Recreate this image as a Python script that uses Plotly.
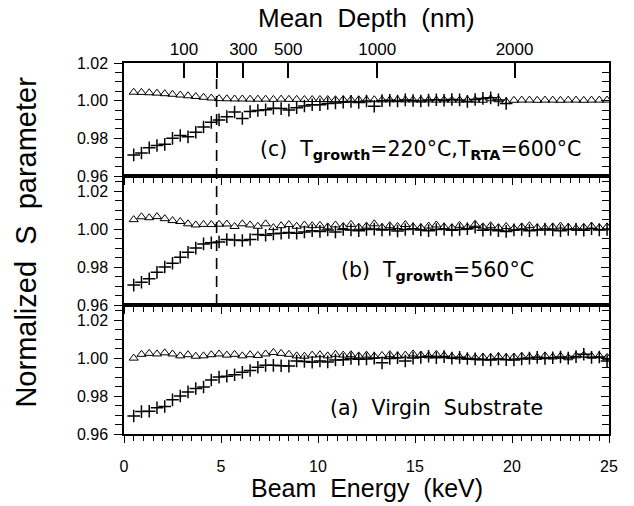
import plotly.graph_objects as go

# ---------------- data ----------------
energy = [0.5, 0.9, 1.3, 1.7, 2.1, 2.5, 2.9, 3.3, 3.7, 4.1, 4.5, 4.9, 5.3, 5.7, 6.1, 6.5,
          6.9, 7.3, 7.7, 8.1, 8.5, 8.9, 9.3, 9.7, 10.1, 10.5, 10.9, 11.3, 11.7, 12.1, 12.5,
          12.9, 13.3, 13.7, 14.1, 14.5, 14.9, 15.3, 15.7, 16.1, 16.5, 16.9, 17.3, 17.7,
          18.1, 18.5, 18.9, 19.3, 19.7, 20.1, 20.5, 20.9, 21.3, 21.7, 22.1, 22.5, 22.9,
          23.3, 23.7, 24.1, 24.5, 24.9]

# (c) T_growth=220C, T_RTA=600C
c_tri = [1.0045, 1.0044, 1.0042, 1.0040, 1.0037, 1.0034, 1.0030, 1.0026, 1.0022, 1.0018,
         1.0014, 1.0011, 1.0010, 1.0009, 1.0009, 1.0008, 1.0008, 1.0008, 1.0007, 1.0008,
         1.0007, 1.0007, 1.0006, 1.0006, 1.0006, 1.0006, 1.0005, 1.0006, 1.0005, 1.0005,
         1.0004, 1.0005, 1.0004, 1.0004, 1.0005, 1.0004, 1.0004, 1.0003, 1.0004, 1.0003,
         1.0004, 1.0003, 1.0003, 1.0004, 1.0003, 1.0002, 1.0010, 1.0005, 0.9995, 1.0002,
         1.0003, 1.0003, 1.0002, 1.0003, 1.0003, 1.0002, 1.0003, 1.0003, 1.0002, 1.0003,
         1.0003, 1.0003]
c_cross = [0.9712, 0.9722, 0.9750, 0.9762, 0.9768, 0.9800, 0.9815, 0.9808, 0.9832, 0.9860,
           0.9885, 0.9898, 0.9915, 0.9940, 0.9905, 0.9942, 0.9948, 0.9952, 0.9960, 0.9958,
           0.9950, 0.9962, 0.9972, 0.9978, 0.9978, 0.9985, 0.9988, 0.9992, 0.9996, 0.9990,
           0.9998, 0.9970, 1.0000, 1.0002, 0.9998, 1.0004, 1.0001, 0.9998, 1.0003, 1.0005,
           1.0002, 1.0006, 1.0004, 0.9996, 1.0006, 1.0012, 1.0015, 1.0004, 0.9985]

# (b) T_growth=560C
b_tri = [1.0050, 1.0065, 1.0060, 1.0066, 1.0055, 1.0045, 1.0040, 1.0028, 1.0022, 1.0025,
         1.0024, 1.0026, 1.0027, 1.0014, 1.0028, 1.0022, 1.0015, 1.0028, 1.0008, 1.0018,
         1.0024, 1.0015, 1.0022, 1.0018, 1.0020, 1.0012, 1.0022, 1.0014, 1.0025, 1.0010,
         1.0016, 1.0028, 1.0010, 1.0018, 1.0014, 1.0024, 1.0012, 1.0008, 1.0016, 1.0022,
         1.0012, 1.0008, 1.0020, 1.0010, 1.0026, 1.0012, 1.0018, 1.0008, 1.0014, 1.0004,
         1.0012, 1.0018, 1.0008, 1.0006, 1.0012, 1.0016, 1.0010, 1.0004, 1.0010, 1.0016,
         1.0008, 1.0012]
b_cross = [0.9705, 0.9720, 0.9738, 0.9772, 0.9800, 0.9820, 0.9852, 0.9878, 0.9900, 0.9922,
           0.9928, 0.9932, 0.9945, 0.9942, 0.9940, 0.9945, 0.9972, 0.9968, 0.9975, 0.9978,
           0.9982, 0.9978, 0.9985, 0.9992, 0.9988, 0.9995, 0.9985, 0.9998, 0.9996, 0.9992,
           0.9998, 1.0000, 0.9995, 0.9998, 0.9990, 0.9998, 1.0002, 0.9996, 0.9992, 0.9998,
           1.0000, 0.9994, 0.9998, 1.0002, 1.0010, 0.9994, 0.9998, 0.9992, 0.9988, 0.9996,
           0.9998, 0.9992, 0.9995, 1.0000, 0.9996, 0.9992, 0.9998, 1.0000, 0.9994, 1.0002,
           0.9996, 0.9998]

# (a) Virgin substrate
a_tri = [1.0000, 1.0020, 1.0025, 1.0022, 1.0028, 1.0022, 1.0012, 1.0018, 1.0010, 1.0012,
         1.0018, 1.0022, 1.0016, 1.0020, 1.0012, 1.0018, 1.0014, 1.0022, 1.0030, 1.0025,
         1.0020, 1.0012, 1.0010, 1.0016, 1.0018, 1.0012, 1.0020, 1.0016, 1.0018, 1.0012,
         1.0016, 1.0010, 1.0014, 1.0018, 1.0012, 1.0016, 1.0022, 1.0016, 1.0012, 1.0020,
         1.0014, 1.0008, 1.0006, 1.0004, 1.0002, 1.0006, 1.0004, 1.0008, 1.0004, 1.0006,
         1.0010, 1.0006, 1.0004, 1.0012, 1.0006, 1.0010, 1.0002, 1.0012, 1.0016, 1.0010,
         1.0012, 1.0004]
a_cross = [0.9695, 0.9718, 0.9720, 0.9738, 0.9745, 0.9780, 0.9800, 0.9822, 0.9840, 0.9848,
           0.9885, 0.9900, 0.9905, 0.9912, 0.9925, 0.9935, 0.9952, 0.9962, 0.9962, 0.9960,
           0.9958, 0.9985, 0.9982, 0.9978, 0.9985, 0.9980, 0.9990, 0.9992, 0.9998, 0.9994,
           0.9996, 1.0000, 0.9975, 0.9998, 1.0002, 0.9985, 1.0000, 1.0004, 1.0010, 1.0002,
           1.0008, 1.0000, 1.0004, 0.9998, 0.9996, 0.9992, 0.9990, 0.9996, 0.9992, 0.9990,
           0.9996, 1.0000, 1.0004, 0.9998, 1.0002, 1.0006, 1.0000, 1.0008, 1.0020, 1.0004,
           1.0006, 0.9985]

depth_ticks = [100, 200, 300, 500, 1000, 2000]
depth_labels = ["100", " ", "300", "500", "1000", "2000"]
dashed_depth = 200

# Makhov mean depth z = A * E^n  (nm, keV)
A_DEP, N_DEP = 16.4, 1.6
def depth_to_energy(z):
    return (z / A_DEP) ** (1.0 / N_DEP)

# ---------------- figure ----------------
FONT = "Liberation Sans, Arial, sans-serif"
FONT2 = "DejaVu Sans, Verdana, sans-serif"
W, H = 634, 506
L, R, T, B = 123.5, 25, 63, 72
ph = H - T - B
d_bot = [0.0, 129 / ph]
d_mid = [129 / ph, 258 / ph]
d_top = [258 / ph, 1.0]

fig = go.Figure()

tri = dict(symbol="triangle-up-open", size=8, color="black", line=dict(width=1, color="black"))
crs = dict(symbol="cross-thin-open", size=9, color="black", line=dict(width=1.5, color="black"))

n_c = len(c_cross)
fig.add_trace(go.Scatter(x=energy, y=c_tri, mode="markers", marker=tri, xaxis="x3", yaxis="y3"))
fig.add_trace(go.Scatter(x=energy[:n_c], y=c_cross, mode="markers", marker=crs, xaxis="x3", yaxis="y3"))
fig.add_trace(go.Scatter(x=energy, y=b_tri, mode="markers", marker=tri, xaxis="x2", yaxis="y2"))
fig.add_trace(go.Scatter(x=energy, y=b_cross, mode="markers", marker=crs, xaxis="x2", yaxis="y2"))
fig.add_trace(go.Scatter(x=energy, y=a_tri, mode="markers", marker=tri, xaxis="x", yaxis="y"))
fig.add_trace(go.Scatter(x=energy, y=a_cross, mode="markers", marker=crs, xaxis="x", yaxis="y"))

# invisible carriers so the overlay (top depth / right tick) axes get drawn
for xa, ya in [("x4", "y3"), ("x", "y4"), ("x2", "y5"), ("x3", "y6")]:
    fig.add_trace(go.Scatter(x=[energy[0]], y=[c_tri[0]], mode="markers",
                             marker=dict(opacity=0), xaxis=xa, yaxis=ya, hoverinfo="skip"))

tickfont = dict(family=FONT, size=16, color="black")

def xax(anchor, labels):
    return dict(range=[0, 25], anchor=anchor, showline=True, linecolor="black", linewidth=1.5,
                mirror=True, ticks="outside", ticklen=7, tickwidth=1.2, tickcolor="black",
                tickmode="linear", tick0=0, dtick=5, showticklabels=labels, tickfont=tickfont,
                ticklabelstandoff=10, showgrid=False, zeroline=False,
                minor=dict(dtick=0.5, ticks="outside", ticklen=5, tickwidth=1, tickcolor="black"))

def yax(anchor, dom, top):
    return dict(domain=dom, range=[0.96, top], anchor=anchor, showline=True, linecolor="black",
                linewidth=1.5, mirror=True, ticks="outside", ticklen=8, tickwidth=1.2,
                tickcolor="black", tickmode="linear", tick0=0.96, dtick=0.02,
                tickformat=".2f", tickfont=tickfont,
                ticklabelstandoff=3, showgrid=False, zeroline=False,
                minor=dict(dtick=0.005, ticks="outside", ticklen=7, tickwidth=1,
                           tickcolor="black"))

def yright(over, anchor, dom, top):
    return dict(domain=dom, range=[0.96, top], overlaying=over, side="right", anchor=anchor,
                showline=False, ticks="inside", ticklen=8, tickwidth=1.2, tickcolor="black",
                tickmode="linear", tick0=0.96, dtick=0.02, showticklabels=False,
                showgrid=False, zeroline=False,
                minor=dict(dtick=0.005, ticks="inside", ticklen=7, tickwidth=1,
                           tickcolor="black"))

fig.update_layout(
    width=W, height=H, margin=dict(l=L, r=R, t=T, b=B),
    paper_bgcolor="white", plot_bgcolor="white", showlegend=False,
    xaxis=xax("y", True),
    xaxis2=xax("y2", False),
    xaxis3=xax("y3", False),
    xaxis4=dict(range=[0, 25], overlaying="x3", anchor="y3", side="top",
                tickmode="array",
                tickvals=[depth_to_energy(z) for z in depth_ticks], ticktext=depth_labels,
                ticks="inside", ticklen=15, tickwidth=1.5, tickcolor="black",
                tickfont=dict(family=FONT, size=17, color="black"), ticklabelstandoff=4,
                showgrid=False, zeroline=False, showline=False),
    yaxis=yax("x", d_bot, 1.028),
    yaxis2=yax("x2", d_mid, 1.028),
    yaxis3=yax("x3", d_top, 1.02),
    yaxis4=yright("y", "x", d_bot, 1.028),
    yaxis5=yright("y2", "x2", d_mid, 1.028),
    yaxis6=yright("y3", "x3", d_top, 1.02),
)

# dashed line marking 200 nm
fig.add_shape(type="line", xref="x3", yref="paper",
              x0=depth_to_energy(dashed_depth), x1=depth_to_energy(dashed_depth),
              y0=d_mid[0], y1=1.0 - 16 / ph,
              line=dict(color="black", width=1.6, dash="11px,7px"))

lab = dict(family=FONT2, size=20.5, color="black")
fig.add_annotation(xref="x3", yref="y3", x=6.9, y=0.9737, xanchor="left", yanchor="middle",
                   text="(c)  T<sub><b>growth</b></sub>=220°C,T<sub><b>RTA</b></sub>=600°C",
                   showarrow=False, font=lab)
fig.add_annotation(xref="x2", yref="y2", x=11.1, y=0.9778, xanchor="left", yanchor="middle",
                   text="(b)  T<sub><b>growth</b></sub>=560°C", showarrow=False, font=lab)
fig.add_annotation(xref="x", yref="y", x=10.5, y=0.9735, xanchor="left", yanchor="middle",
                   text="(a)  Virgin  Substrate", showarrow=False, font=lab)

fig.add_annotation(xref="paper", yref="paper", x=0.5, y=(H - 488 - B) / ph, xanchor="center",
                   yanchor="middle", text="Beam  Energy  (keV)", showarrow=False,
                   font=dict(family=FONT, size=25, color="black"))
fig.add_annotation(xref="paper", yref="paper", x=0.5, y=1 + (T - 18) / ph, xanchor="center",
                   yanchor="middle", text="Mean  Depth  (nm)", showarrow=False,
                   font=dict(family=FONT, size=26, color="black"))
fig.add_annotation(xref="paper", yref="paper", x=-(L - 25) / (W - L - R), y=(H - 242 - B) / ph,
                   xanchor="center", yanchor="middle", textangle=-90,
                   text="Normalized  S  parameter", showarrow=False,
                   font=dict(family=FONT, size=29, color="black"))

fig.write_html("out.html", post_script="document.body.style.margin='0';",
               config={"displayModeBar": False})
